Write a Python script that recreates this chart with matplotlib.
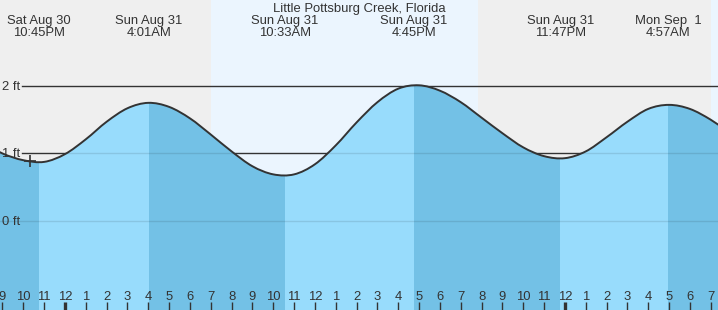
import numpy as np
import matplotlib
matplotlib.use("Agg")
import matplotlib.pyplot as plt
import matplotlib.transforms as mtransforms
from matplotlib.path import Path
from matplotlib.patches import PathPatch

plt.rcParams['font.family'] = ['Liberation Sans', 'DejaVu Sans']

title = "Little Pottsburg Creek, Florida"

# hours since midnight, Sun Aug 31
event_hours = [-1.25, 4.017, 10.55, 16.75, 23.783, 28.95]
event_ft = [0.87, 1.75, 0.67, 2.01, 0.93, 1.72]
event_kind = ["L", "H", "L", "H", "L", "H"]
event_day = ["Sat Aug 30", "Sun Aug 31", "Sun Aug 31", "Sun Aug 31", "Sun Aug 31", "Mon Sep  1"]
event_time = ["10:45PM", "4:01AM", "10:33AM", "4:45PM", "11:47PM", "4:57AM"]

# tide height, hourly
curve_hours = list(range(-4, 33))
curve_ft = [1.17, 1.00, 0.90, 0.875, 0.99, 1.21, 1.47, 1.67, 1.75, 1.69, 1.52, 1.28, 1.03,
            0.81, 0.69, 0.69, 0.84, 1.12, 1.46, 1.76, 1.96, 2.01, 1.93, 1.76, 1.53, 1.30,
            1.09, 0.96, 0.93, 1.03, 1.24, 1.47, 1.66, 1.72, 1.66, 1.50, 1.29]

sunrise = [-20.0, 7.0, 31.0]
sunset = [-5.0, 19.83, 43.0]

tick_hours = list(range(-3, 32))
tick_labels = ["9", "10", "11", "12", "1", "2", "3", "4", "5", "6", "7", "8", "9", "10", "11",
               "12", "1", "2", "3", "4", "5", "6", "7", "8", "9", "10", "11",
               "12", "1", "2", "3", "4", "5", "6", "7"]
y_levels = [0, 1, 2]

now_hour = -1.68
now_ft = 0.89

night = "#efefef"
day = "#ebf5fe"
light = "#98dcfc"
dark = "#73c1e6"
ink = "#333333"


def smooth_path(x, y):
    # catmull-rom through the points, as bezier segments
    pts = np.column_stack([x, y]).astype(float)
    verts = [pts[0]]
    codes = [Path.MOVETO]
    n = len(pts)
    for i in range(n - 1):
        p0 = pts[max(i - 1, 0)]
        p1, p2 = pts[i], pts[i + 1]
        p3 = pts[min(i + 2, n - 1)]
        verts += [p1 + (p2 - p0) / 6, p2 - (p3 - p1) / 6, p2]
        codes += [Path.CURVE4] * 3
    return verts, codes


fig = plt.figure(figsize=(7.18, 3.10), dpi=100)
ax = fig.add_axes([0, 0, 1, 1])
ax.set_facecolor(night)
for s in ax.spines.values():
    s.set_visible(False)
ax.set_xlim(-3.12, 31.35)
ax.set_ylim(-1.32, 3.274)

for a, b in zip(sunrise, sunset):
    ax.axvspan(a, b, color=day, zorder=0, lw=0)

# black level lines (hidden by the water)
for lv in y_levels[1:]:
    ax.axhline(lv, xmin=22 / 718, xmax=1, color=ink, lw=1, zorder=0.5)

verts, codes = smooth_path(curve_hours, curve_ft)
fill_verts = verts + [(curve_hours[-1], -2), (curve_hours[0], -2), verts[0]]
fill_codes = codes + [Path.LINETO, Path.LINETO, Path.CLOSEPOLY]
water = PathPatch(Path(fill_verts, fill_codes), facecolor=light, lw=0, zorder=1)
ax.add_patch(water)

# falling tide (high -> low) drawn darker
edges = [-10] + event_hours + [40]
for i in range(len(edges) - 1):
    falling = event_kind[i] == "L" if i < len(event_kind) else True
    if falling:
        sp = ax.axvspan(edges[i], edges[i + 1], color=dark, lw=0, zorder=1.1)
        sp.set_clip_path(water)

for lv in y_levels:
    ln = ax.axhline(lv, color="black", alpha=0.1, lw=1, zorder=1.2)
    ln.set_clip_path(water)

ax.add_patch(PathPatch(Path(verts, codes), facecolor="none", edgecolor=ink, lw=1.4, zorder=3))
ax.plot([now_hour], [now_ft], marker="+", ms=9, mew=1.2, color=ink, zorder=4)

# y labels
ytr = mtransforms.blended_transform_factory(ax.transAxes, ax.transData)
for lv in y_levels:
    ax.text(2 / 718, lv - 0.06, f"{lv} ft", transform=ytr, fontsize=9.4,
            color=ink, ha="left", va="baseline")

# event labels
xtr = mtransforms.blended_transform_factory(ax.transData, ax.transAxes)
for h, d, t in zip(event_hours, event_day, event_time):
    ax.text(h, 1 - 24 / 310, d, transform=xtr, fontsize=9.4, color=ink,
            ha="center", va="baseline")
    ax.text(h, 1 - 36 / 310, t, transform=xtr, fontsize=9.4, color=ink,
            ha="center", va="baseline")

ax.text(0.5, 1 - 12 / 310, title, transform=ax.transAxes, fontsize=9.4,
        color=ink, ha="center", va="baseline")

# hour ticks
ax.set_xticks(tick_hours)
ax.set_xticklabels([])
ax.set_yticks([])
ax.tick_params(axis="x", direction="in", length=5.8, width=1, color=ink)
ax.set_axisbelow(False)
for h, tk in zip(tick_hours, ax.xaxis.get_major_ticks()):
    if h % 24 == 0:
        tk.tick1line.set_markeredgewidth(2.4)
for h, lab in zip(tick_hours, tick_labels):
    ax.text(h, 10 / 310, lab, transform=xtr, fontsize=9.4, color=ink,
            ha="center", va="baseline")

fig.savefig("out.png", dpi=100)
